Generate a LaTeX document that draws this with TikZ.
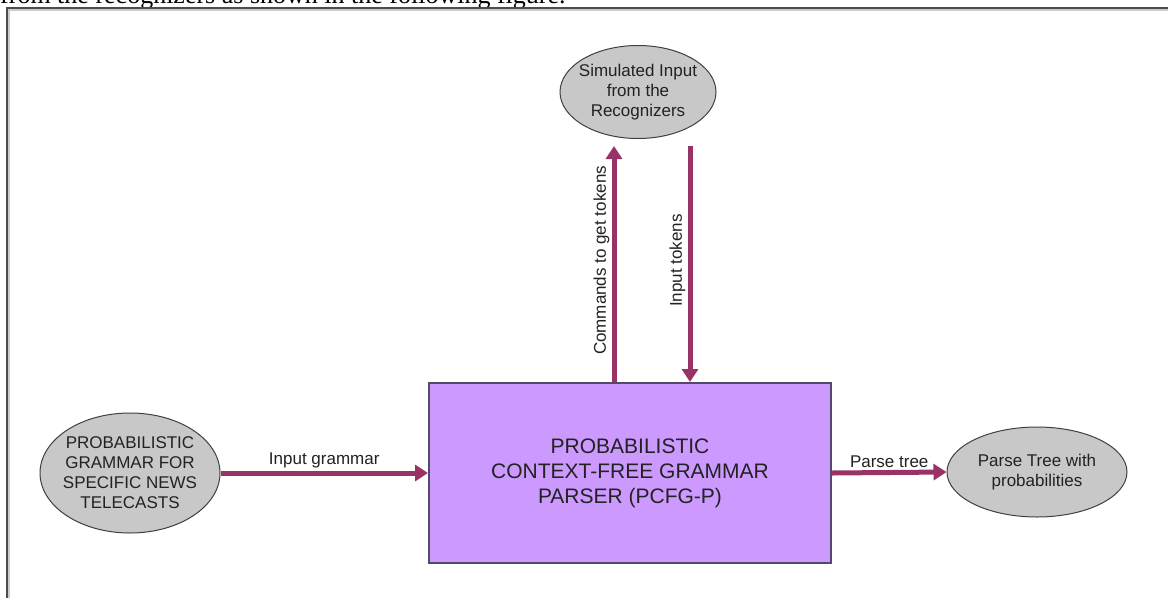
\documentclass[tikz,border=0pt]{standalone}
\usepackage{fontspec}
\setmainfont{Liberation Sans}
\newfontfamily\serifdoc{Liberation Serif}
\usetikzlibrary{shapes.geometric,arrows.meta}
\definecolor{plum}{HTML}{993366}
\definecolor{ellfill}{HTML}{C8C8C8}
\definecolor{boxfill}{HTML}{CC99FF}
\definecolor{boxline}{HTML}{55486A}
\definecolor{txt}{HTML}{222222}
\tikzset{
  ellnode/.style={ellipse, draw=black!75, fill=ellfill, line width=1pt, inner xsep=-14pt, inner ysep=-6pt,
    align=center, text=txt, font=\fontsize{17}{20}\selectfont},
  boxnode/.style={rectangle, draw=boxline, fill=boxfill, line width=2pt, inner sep=0pt,
    align=center, text=txt, font=\fontsize{21}{25}\selectfont},
  arr/.style={line width=5pt, draw=plum, -{Triangle[width=16pt,length=13pt]}},
  lbl/.style={text=txt, font=\fontsize{17}{20}\selectfont, inner sep=2pt}
}
\begin{document}
\begin{tikzpicture}[x=1pt,y=-1pt]
\useasboundingbox (0,0) rectangle (1168,598);
\fill[white] (0,0) rectangle (1168,598);
% clipped caption line above the frame
\begin{scope}
\clip (0,0) rectangle (1168,7);
\node[anchor=base west, inner sep=0pt, font=\serifdoc\fontsize{26}{30}\selectfont] (cap) at (0,3) {from the recognizers as shown in the following figure.};
\end{scope}
% frame
\draw[line width=1.5pt, gray!40] (9,598) -- (9,10) -- (1168,10);
\draw[line width=2pt, black!70] (7,598) -- (7,8) -- (1168,8);
% nodes
\node[ellnode, minimum width=180pt, minimum height=120pt] (L) at (130,473)
  {PROBABILISTIC\\GRAMMAR FOR\\SPECIFIC NEWS\\TELECASTS};
\node[ellnode, minimum width=156pt, minimum height=93pt] (T) at (638,92)
  {Simulated Input\\from the\\Recognizers};
\node[ellnode, minimum width=180pt, minimum height=90pt] (R) at (1037,472)
  {Parse Tree with\\probabilities};
\node[boxnode, minimum width=402pt, minimum height=180pt] (P) at (630,473)
  {PROBABILISTIC\\CONTEXT-FREE GRAMMAR\\PARSER (PCFG-P)};
% connectors
\draw[arr] (L.east) -- node[lbl, midway, above] {Input grammar} (P.west);
\draw[arr] (P.east) -- node[lbl, midway, above] {Parse tree} (R.west);
\draw[arr, shorten >=7pt] ([xshift=-16pt]P.north) -- ([xshift=-16pt]P.north |- T.south)
  node[lbl, midway, rotate=90, above] {Commands to get tokens};
\draw[arr, shorten <=7pt] ([xshift=60pt]P.north |- T.south) -- ([xshift=60pt]P.north)
  node[lbl, midway, rotate=90, above] {Input tokens};
\end{tikzpicture}
\end{document}
